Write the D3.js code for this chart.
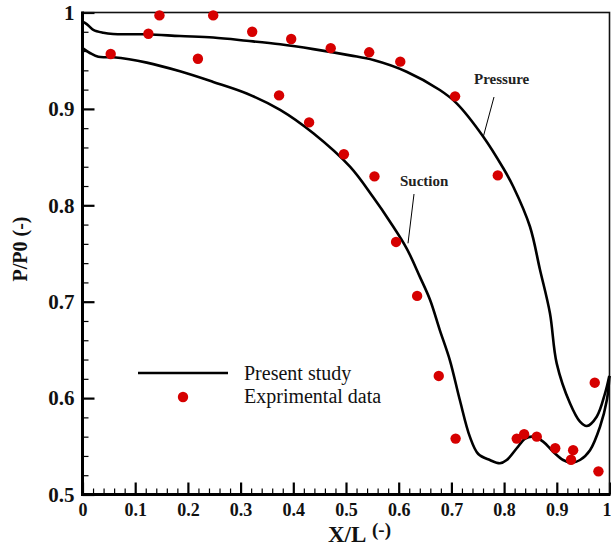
<!DOCTYPE html>
<html>
<head>
<meta charset="utf-8">
<script src="https://cdn.jsdelivr.net/npm/d3@7"></script>
<style>
  html, body { margin: 0; padding: 0; background: #fff; }
  svg { display: block; }
</style>
</head>
<body>
<svg id="chart" width="611" height="547"></svg>
<script>
// Experimental data points (X/L, P/P0)
const expX = [0.0535, 0.125, 0.146, 0.219, 0.248, 0.322, 0.373, 0.396, 0.430, 0.471, 0.496,
              0.544, 0.554, 0.595, 0.603, 0.635, 0.676, 0.707, 0.708, 0.788, 0.824, 0.838,
              0.862, 0.897, 0.927, 0.931, 0.972, 0.979];
const expY = [0.957, 0.978, 0.997, 0.952, 0.997, 0.980, 0.914, 0.9725, 0.886, 0.963, 0.853,
              0.9587, 0.830, 0.762, 0.949, 0.706, 0.623, 0.913, 0.558, 0.831, 0.558, 0.5625,
              0.560, 0.548, 0.536, 0.546, 0.616, 0.524];

// Present study: pressure side
const pressureX = [0, 0.008, 0.0205, 0.0395, 0.058, 0.122, 0.185, 0.248, 0.3115, 0.375, 0.438,
                   0.5076, 0.552, 0.615, 0.678, 0.710, 0.7605, 0.7985, 0.8175, 0.849, 0.868,
                   0.887, 0.8998, 0.925, 0.944, 0.957, 0.9757, 0.9915, 0.9996];
const pressureY = [0.9905, 0.988, 0.982, 0.979, 0.9777, 0.9774, 0.9756, 0.974, 0.9707, 0.967, 0.962,
                   0.9555, 0.9507, 0.9386, 0.9196, 0.9058, 0.8712, 0.8384, 0.8193, 0.778, 0.7334,
                   0.688, 0.636, 0.5946, 0.5755, 0.571, 0.5807, 0.605, 0.623];

// Present study: suction side
const suctionX = [0, 0.014, 0.030, 0.058, 0.122, 0.185, 0.248, 0.3116, 0.375, 0.438, 0.5076,
                  0.552, 0.5835, 0.615, 0.640, 0.6594, 0.678, 0.697, 0.716, 0.735, 0.751,
                  0.773, 0.792, 0.805, 0.824, 0.840, 0.855, 0.874, 0.893, 0.912, 0.928,
                  0.944, 0.963, 0.982, 0.995, 1.0];
const suctionY = [0.963, 0.958, 0.954, 0.9535, 0.948, 0.939, 0.928, 0.916, 0.899, 0.8747, 0.840,
                  0.808, 0.783, 0.7554, 0.726, 0.702, 0.6706, 0.6395, 0.598, 0.560, 0.542,
                  0.5358, 0.5324, 0.5358, 0.548, 0.558, 0.560, 0.5548, 0.5444, 0.5358, 0.533,
                  0.5358, 0.546, 0.5703, 0.598, 0.623];

const xMajor = [0, 0.1, 0.2, 0.3, 0.4, 0.5, 0.6, 0.7, 0.8, 0.9, 1];
const yMajor = [0.5, 0.6, 0.7, 0.8, 0.9, 1];
const xTickLabels = ["0", "0.1", "0.2", "0.3", "0.4", "0.5", "0.6", "0.7", "0.8", "0.9", "1"];
const yTickLabels = ["0.5", "0.6", "0.7", "0.8", "0.9", "1"];

const svg = d3.select("#chart");
const x = d3.scaleLinear().domain([0, 1]).range([82.5, 609.5]);
const y = d3.scaleLinear().domain([0.5, 1]).range([494.5, 12.5]);

const serif = "'Liberation Serif', 'Times New Roman', serif";

// minor ticks every 0.02
const xMinor = d3.range(0, 1.0001, 0.02).filter(v => Math.abs(v * 10 - Math.round(v * 10)) > 1e-6);
const yMinor = d3.range(0.5, 1.0001, 0.02).filter(v => Math.abs(v * 10 - Math.round(v * 10)) > 1e-6);

// X axis
const gxMinor = svg.append("g").attr("transform", `translate(0,${y(0.5)})`)
  .call(d3.axisBottom(x).tickValues(xMinor).tickSize(-6).tickFormat(""));
gxMinor.select(".domain").remove();
gxMinor.selectAll("line").attr("stroke", "#000").attr("stroke-width", 1.2);

const gx = svg.append("g").attr("transform", `translate(0,${y(0.5)})`)
  .call(d3.axisBottom(x).tickValues(xMajor).tickSize(-12).tickPadding(9)
    .tickFormat((d, i) => xTickLabels[i]));
gx.select(".domain").remove();
gx.selectAll("line").attr("stroke", "#000").attr("stroke-width", 2.2);
gx.selectAll("text").attr("font-family", serif).attr("font-weight", "bold")
  .attr("font-size", 18).attr("fill", "#111");
// keep the last label inside the canvas edge
gx.selectAll("text").filter(d => d === 1).attr("text-anchor", "end").attr("x", 1.5);

// Y axis
const gyMinor = svg.append("g").attr("transform", `translate(${x(0)},0)`)
  .call(d3.axisLeft(y).tickValues(yMinor).tickSize(-6).tickFormat(""));
gyMinor.select(".domain").remove();
gyMinor.selectAll("line").attr("stroke", "#000").attr("stroke-width", 1.2);

const gy = svg.append("g").attr("transform", `translate(${x(0)},0)`)
  .call(d3.axisLeft(y).tickValues(yMajor).tickSize(-12).tickPadding(8)
    .tickFormat((d, i) => yTickLabels[i]));
gy.select(".domain").remove();
gy.selectAll("line").attr("stroke", "#000").attr("stroke-width", 2.2);
gy.selectAll("text").attr("font-family", serif).attr("font-weight", "bold")
  .attr("font-size", 21).attr("fill", "#111");

// Frame: thin top/right, heavy left/bottom
svg.append("rect").attr("x", x(0)).attr("y", y(1))
  .attr("width", x(1) - x(0)).attr("height", y(0.5) - y(1))
  .attr("fill", "none").attr("stroke", "#111").attr("stroke-width", 1.6);
svg.append("line").attr("x1", x(0)).attr("x2", x(0)).attr("y1", y(1) - 1).attr("y2", y(0.5) + 1.5)
  .attr("stroke", "#000").attr("stroke-width", 3);
svg.append("line").attr("x1", x(0) - 1.5).attr("x2", x(1) + 1).attr("y1", y(0.5)).attr("y2", y(0.5))
  .attr("stroke", "#000").attr("stroke-width", 3);

// Curves
const line = d3.line().x(d => x(d[0])).y(d => y(d[1])).curve(d3.curveCatmullRom.alpha(0.5));
const pressure = pressureX.map((v, i) => [v, pressureY[i]]);
const suction = suctionX.map((v, i) => [v, suctionY[i]]);
[pressure, suction].forEach(s => {
  svg.append("path").datum(s).attr("d", line)
    .attr("fill", "none").attr("stroke", "#000").attr("stroke-width", 2.6)
    .attr("stroke-linejoin", "round");
});

// Experimental points
svg.append("g").selectAll("circle")
  .data(expX.map((v, i) => [v, expY[i]]))
  .join("circle")
  .attr("cx", d => x(d[0])).attr("cy", d => y(d[1])).attr("r", 5.2)
  .attr("fill", "#d60000");

// Annotations with leader lines
svg.append("text").attr("x", 474).attr("y", 84).text("Pressure")
  .attr("font-family", serif).attr("font-weight", "bold").attr("font-size", 15).attr("fill", "#222");
svg.append("line").attr("x1", 494).attr("y1", 97).attr("x2", 483.3).attr("y2", 136.7)
  .attr("stroke", "#000").attr("stroke-width", 1);
svg.append("text").attr("x", 400).attr("y", 186).text("Suction")
  .attr("font-family", serif).attr("font-weight", "bold").attr("font-size", 15).attr("fill", "#222");
svg.append("line").attr("x1", 414).attr("y1", 194).attr("x2", 408).attr("y2", 243.3)
  .attr("stroke", "#000").attr("stroke-width", 1);

// Legend
svg.append("line").attr("x1", 138).attr("x2", 228).attr("y1", 373).attr("y2", 373)
  .attr("stroke", "#000").attr("stroke-width", 2.6);
svg.append("text").attr("x", 244).attr("y", 379.5).text("Present study")
  .attr("font-family", serif).attr("font-size", 20).attr("fill", "#111");
svg.append("circle").attr("cx", 183).attr("cy", 397).attr("r", 5.2).attr("fill", "#d60000");
svg.append("text").attr("x", 244).attr("y", 403).text("Exprimental data")
  .attr("font-family", serif).attr("font-size", 20).attr("fill", "#111");

// Axis titles
svg.append("text").attr("x", 328).attr("y", 541.5).text("X/L")
  .attr("font-family", serif).attr("font-weight", "bold").attr("font-size", 23).attr("fill", "#111");
svg.append("text").attr("x", 372).attr("y", 536).text("(-)")
  .attr("font-family", serif).attr("font-weight", "bold").attr("font-size", 19).attr("fill", "#111");
svg.append("text")
  .attr("transform", "translate(27,249) rotate(-90)")
  .attr("text-anchor", "middle").text("P/P0 (-)")
  .attr("font-family", serif).attr("font-weight", "bold").attr("font-size", 20).attr("fill", "#111");
</script>
</body>
</html>
